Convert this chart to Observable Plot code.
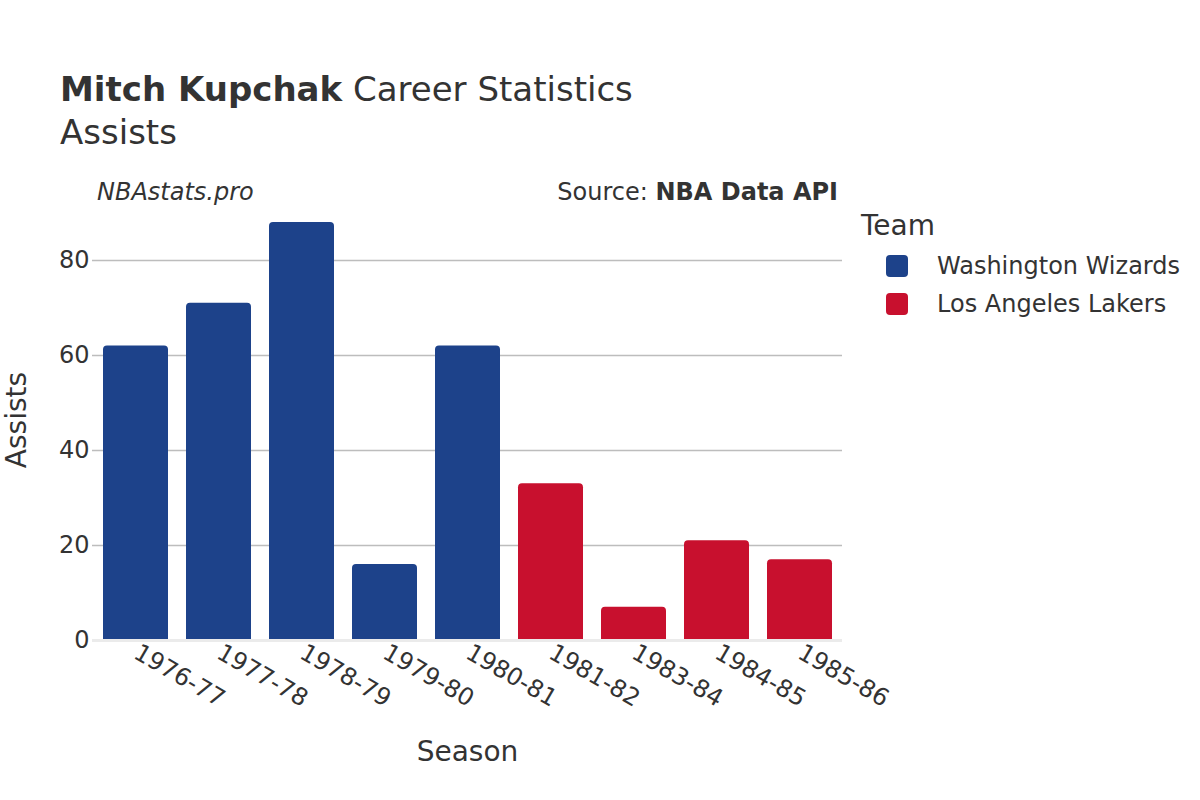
<!DOCTYPE html>
<html>
<head>
<meta charset="utf-8">
<script src="https://cdn.jsdelivr.net/npm/d3@7"></script>
<script src="https://cdn.jsdelivr.net/npm/@observablehq/plot@0.6"></script>
<style>
  html, body { margin: 0; padding: 0; background: #fff; }
  body { width: 1200px; height: 800px; position: relative; overflow: hidden; font-family: "DejaVu Sans", sans-serif; color: #333; }
  .abs { position: absolute; white-space: nowrap; }
  #chart { position: absolute; left: 0; top: 0; }
  .sw { position: absolute; width: 22px; height: 22px; border-radius: 4px; }
</style>
</head>
<body>
<div class="abs" style="left:60px; top:68px; font-size:34px; line-height:42px;"><b>Mitch Kupchak</b> Career Statistics</div>
<div class="abs" style="left:60px; top:111px; font-size:34px; line-height:42px;">Assists</div>
<div class="abs" style="left:97px; top:176px; font-size:24px; line-height:32px; font-style:italic;">NBAstats.pro</div>
<div class="abs" style="right:362px; top:176px; font-size:24px; line-height:32px;">Source: <b>NBA Data API</b></div>
<div id="chart"></div>
<div class="abs" style="left:861px; top:208px; font-size:28px; line-height:36px;">Team</div>
<div class="sw" style="left:886px; top:255px; background:#1d428a;"></div>
<div class="abs" style="left:937px; top:250px; font-size:24px; line-height:32px;">Washington Wizards</div>
<div class="sw" style="left:886px; top:293px; background:#c8102e;"></div>
<div class="abs" style="left:937px; top:288px; font-size:24px; line-height:32px;">Los Angeles Lakers</div>
<script>
const seasons = ["1976-77","1977-78","1978-79","1979-80","1980-81","1981-82","1983-84","1984-85","1985-86"];
const assists = [62, 71, 88, 16, 62, 33, 7, 21, 17];
const teams = ["Washington Wizards","Washington Wizards","Washington Wizards","Washington Wizards","Washington Wizards","Los Angeles Lakers","Los Angeles Lakers","Los Angeles Lakers","Los Angeles Lakers"];
const teamNames = ["Washington Wizards","Los Angeles Lakers"];
const teamColors = ["#1d428a","#c8102e"];
const yTicks = [0, 20, 40, 60, 80];

const data = seasons.map((s, i) => ({season: s, value: assists[i], team: teams[i]}));

const chart = Plot.plot({
  width: 1200,
  height: 800,
  marginLeft: 92,
  marginRight: 358,
  marginTop: 203,
  marginBottom: 160,
  style: {fontFamily: "DejaVu Sans, sans-serif", fontSize: "24px", color: "#333", background: "transparent"},
  x: {domain: seasons, paddingInner: 0.22, paddingOuter: 0.11, label: null},
  y: {domain: [0, 92], label: null},
  color: {domain: teamNames, range: teamColors},
  marks: [
    Plot.ruleY(yTicks.filter(d => d > 0), {stroke: "#bdbdbd", strokeWidth: 1.5}),
    Plot.barY(data, {x: "season", y: "value", fill: "team", rx: 4}),
    Plot.barY(data, {x: "season", y1: 0, y2: d => Math.min(d.value, 2), fill: "team"}),
    Plot.ruleY([0], {stroke: "#ebebeb", strokeWidth: 3}),
    Plot.axisY({ticks: yTicks, tickSize: 0, tickPadding: 3, label: null, fontSize: 24, tickFormat: d => d}),
    Plot.axisX({tickSize: 0, tickRotate: 30, tickPadding: 10, label: null, fontSize: 24}),
    Plot.text(["Season"], {frameAnchor: "bottom", fontSize: 28, fill: "#333", y: () => 0, dy: 120})
  ]
});
document.getElementById("chart").appendChild(chart);
</script>
<svg class="abs" style="left:0;top:0;" width="60" height="800"><text x="18" y="420" transform="rotate(-90 18 420)" text-anchor="middle" dominant-baseline="middle" font-family="DejaVu Sans, sans-serif" font-size="28" fill="#333">Assists</text></svg>
</body>
</html>
